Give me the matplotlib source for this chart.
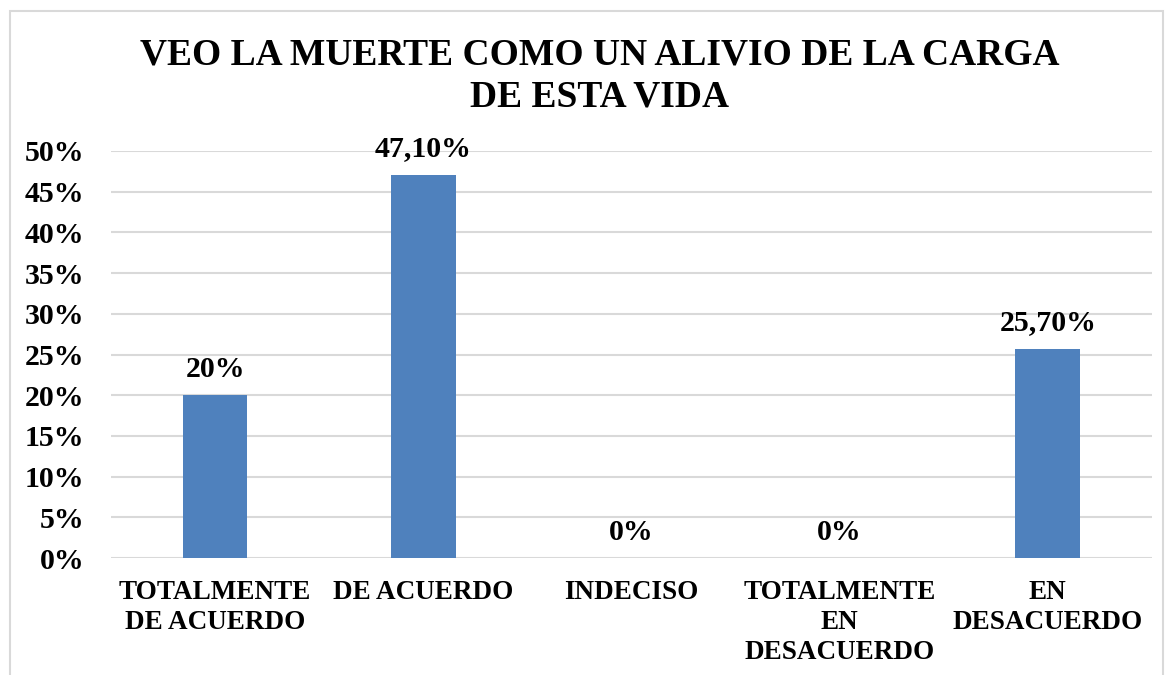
import matplotlib.pyplot as plt
from matplotlib.patches import Rectangle
from matplotlib.ticker import FuncFormatter

plt.rcParams['font.family'] = ['Liberation Serif', 'DejaVu Serif']
plt.rcParams['font.weight'] = 'bold'

title = "VEO LA MUERTE COMO UN ALIVIO DE LA CARGA\nDE ESTA VIDA"
categories = ["TOTALMENTE\nDE ACUERDO", "DE ACUERDO", "INDECISO",
              "TOTALMENTE\nEN\nDESACUERDO", "EN\nDESACUERDO"]
percentages = [20, 47.1, 0, 0, 25.7]
y_ticks = [0, 5, 10, 15, 20, 25, 30, 35, 40, 45, 50]


def fmt_pct(v):
    if float(v).is_integer():
        return f"{v:.0f}%"
    return f"{v:.2f}%".replace('.', ',')


fig = plt.figure(figsize=(11.67, 6.75), dpi=100)
ax = fig.add_axes([0.0951, 0.1733, 0.8919, 0.6030])

x = range(len(categories))
bars = ax.bar(x, percentages, width=0.31, color='#4F81BD', zorder=3)
ax.bar_label(bars, labels=[fmt_pct(v) for v in percentages], padding=9,
             fontsize=21.5, fontweight='bold')

ax.set_xlim(-0.5, len(categories) - 0.5)
ax.set_ylim(0, 50)
ax.set_yticks(y_ticks)
ax.yaxis.set_major_formatter(FuncFormatter(lambda v, _: f"{v:.0f}%"))
ax.set_xticks(list(x))
ax.set_xticklabels(categories, fontsize=19.5, fontweight='bold', linespacing=1.25)
ax.tick_params(axis='y', labelsize=21.5, length=0, pad=19)
ax.tick_params(axis='x', length=0, pad=16)

ax.grid(axis='y', color='#D9D9D9', linewidth=1.5, zorder=0)
for s in ax.spines.values():
    s.set_visible(False)

fig.text(0.514, 0.887, title, fontsize=27, fontweight='bold', ha='center',
         va='center', linespacing=1.25)

# light frame round the whole chart
fig.patches.append(Rectangle((10 / 1167, -0.01), 1153 / 1167, 1 - 11 / 675 + 0.01,
                             transform=fig.transFigure, fill=False,
                             edgecolor='#D9D9D9', linewidth=1.5))

fig.savefig('out.png', dpi=100)
